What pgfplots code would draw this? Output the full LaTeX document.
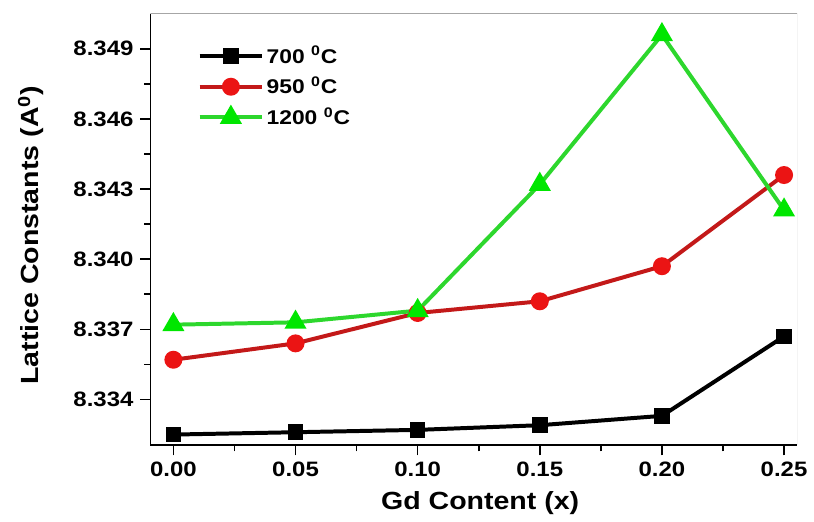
\documentclass[border=0pt]{standalone}
\usepackage{fontspec}
\setmainfont{Liberation Sans}[FakeStretch=1.15]
\usepackage{pgfplots}
\pgfplotsset{compat=1.18}
\definecolor{lred}{RGB}{195,25,25}
\definecolor{mred}{RGB}{235,20,20}
\definecolor{lgreen}{RGB}{45,215,45}
\definecolor{mgreen}{RGB}{0,230,0}

\begin{document}
\begin{tikzpicture}
\begin{axis}[
  scale only axis,
  width=324.5bp, height=216.5bp,
  xmin=-0.0094, xmax=0.2553,
  ymin=8.33204, ymax=8.35049,
  axis x line*=bottom, axis y line*=left,
  axis line style={line width=0.9bp},
  xtick={0,0.05,0.10,0.15,0.20,0.25},
  ytick={8.334,8.337,8.340,8.343,8.346,8.349},
  minor x tick num=1, minor y tick num=1,
  tick align=outside,
  major tick length=5bp, minor tick length=3bp,
  tick style={black, line width=0.8bp},
  scaled x ticks=false, scaled y ticks=false,
  xticklabel style={/pgf/number format/fixed, /pgf/number format/fixed zerofill,
    /pgf/number format/precision=2, /pgf/number format/assume math mode=true},
  yticklabel style={/pgf/number format/fixed, /pgf/number format/fixed zerofill,
    /pgf/number format/precision=3, /pgf/number format/assume math mode=true},
  tick label style={font=\fontsize{10.5}{12}\selectfont\bfseries},
  xlabel={Gd Content (x)},
  ylabel={Lattice Constants (A\textsuperscript{0})},
  label style={font=\fontsize{12.5}{14}\selectfont\bfseries},
  xlabel style={at={(rel axis cs:0.51,0)}, yshift=-29bp, anchor=center},
  ylabel style={at={([xshift=-60bp]rel axis cs:0,0.487)}, anchor=center},
  legend style={draw=none, fill=none, at={(rel axis cs:0.063,0.941)}, anchor=north west,
    font=\fontsize{10}{12}\selectfont\bfseries, row sep=3bp,
    nodes={inner sep=1.2bp}},
  legend cell align=left,
  legend image code/.code={\draw[mark repeat=2, mark phase=2, #1]
    plot coordinates {(0bp,0bp) (15.75bp,0bp) (31.5bp,0bp)};},
]
\addplot[line width=2bp, black, mark=square*, mark size=2.9bp] coordinates {
  (0,8.3325) (0.05,8.3326) (0.10,8.3327) (0.15,8.3329) (0.20,8.3333) (0.25,8.3367)
};
\addlegendentry{700 \textsuperscript{0}C}
\addplot[line width=2bp, lred, mark=*, mark size=3.5bp, mark options={fill=mred, draw=mred}] coordinates {
  (0,8.3357) (0.05,8.3364) (0.10,8.3377) (0.15,8.3382) (0.20,8.3397) (0.25,8.3436)
};
\addlegendentry{950 \textsuperscript{0}C}
\addplot[line width=2bp, lgreen, mark=triangle*, mark size=4.4bp, mark options={fill=mgreen, draw=mgreen}] coordinates {
  (0,8.3372) (0.05,8.3373) (0.10,8.3378) (0.15,8.3432) (0.20,8.3496) (0.25,8.3421)
};
\addlegendentry{1200 \textsuperscript{0}C}

% thin grey top and right frame
\draw[gray!70, line width=0.5bp] (rel axis cs:0,1) -- (rel axis cs:1,1) -- (rel axis cs:1,0);
\end{axis}
\path ([xshift=-75.5bp,yshift=-37bp]current axis.south west)
  rectangle ([xshift=7bp,yshift=7bp]current axis.north east);
\end{tikzpicture}
\end{document}
